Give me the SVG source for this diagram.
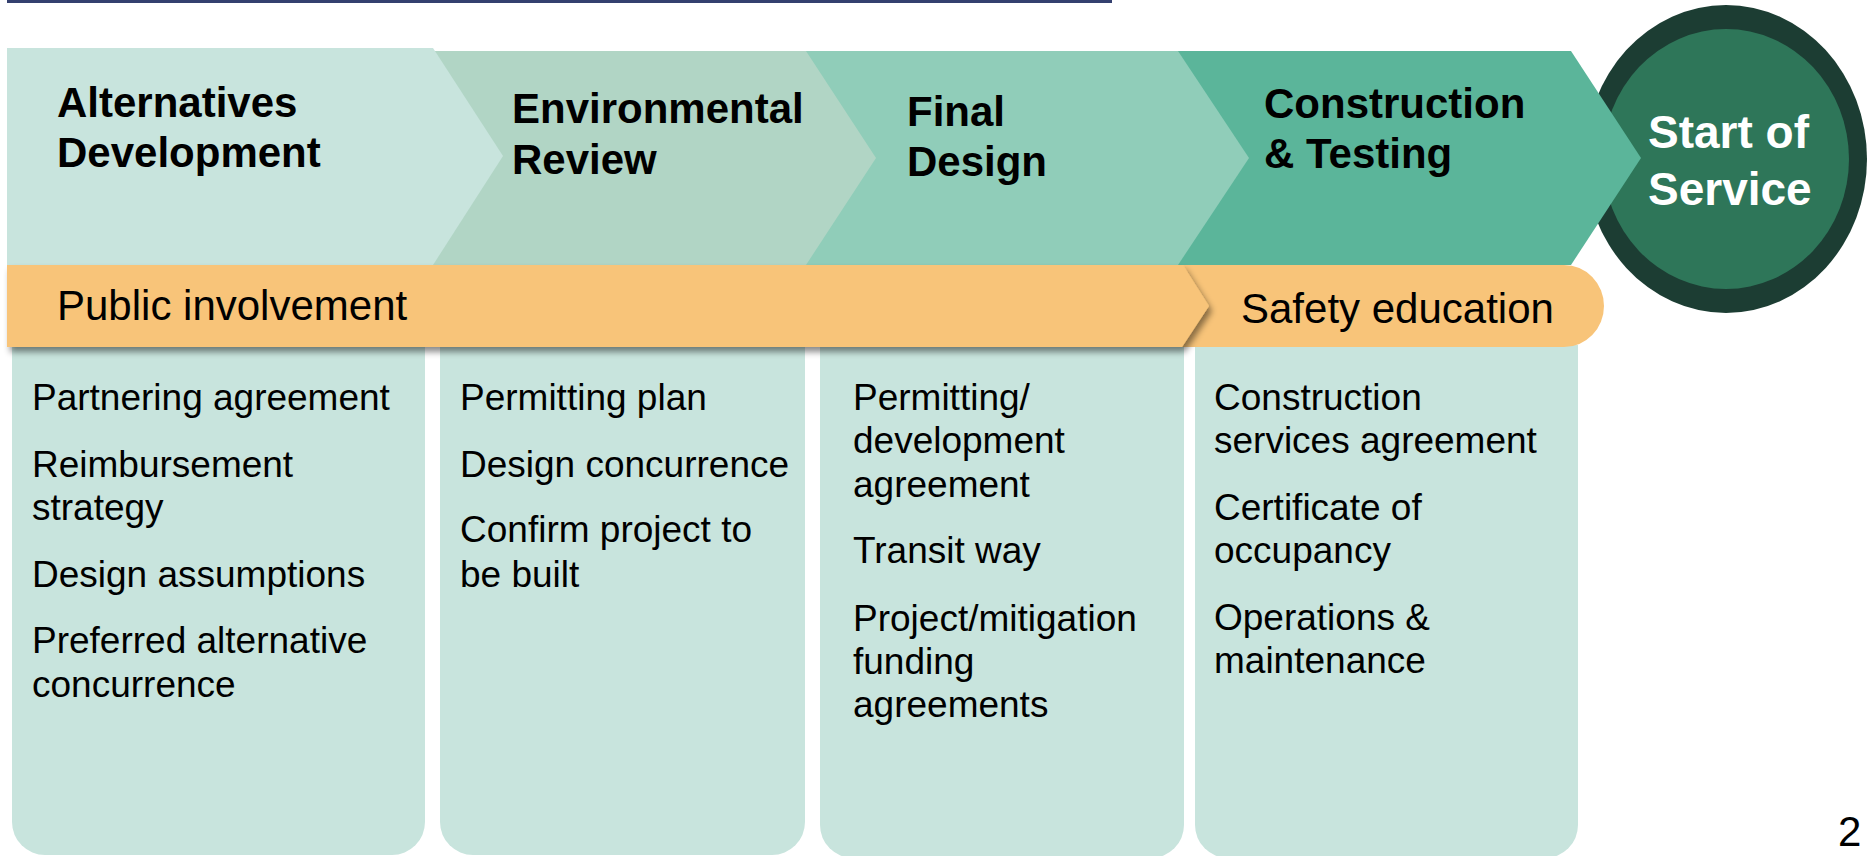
<svg xmlns="http://www.w3.org/2000/svg" width="1868" height="856" viewBox="0 0 1868 856">
  <style>
    .hdr { font-family: "Liberation Sans", Arial, sans-serif; font-weight: bold; font-size: 42px; fill: #000; }
    .sos { font-family: "Liberation Sans", Arial, sans-serif; font-weight: bold; font-size: 46px; fill: #fff; }
    .bar { font-family: "Liberation Sans", Arial, sans-serif; font-size: 42px; fill: #000; }
    .body { font-family: "Liberation Sans", Arial, sans-serif; font-size: 37px; fill: #000; }
    .box { fill: #c8e4dd; }
    .orange { fill: #f8c479; }
  </style>
  <defs>
    <filter id="shadow" x="-5%" y="-20%" width="110%" height="160%">
      <feDropShadow dx="3" dy="5" stdDeviation="3" flood-color="#000" flood-opacity="0.45"/>
    </filter>
  </defs>
  <rect width="1868" height="856" fill="#fff"/>
  <rect x="7" y="0" width="1105" height="3" fill="#34406f"/>

  <g id="box-alternatives">
    <path class="box" d="M12,345 H425 V822 A33,33 0 0 1 392,855 H45 A33,33 0 0 1 12,822 Z"/>
    <text class="body" x="32" y="410">Partnering agreement</text>
    <text class="body" x="32" y="477">Reimbursement</text>
    <text class="body" x="32" y="520">strategy</text>
    <text class="body" x="32" y="587">Design assumptions</text>
    <text class="body" x="32" y="653">Preferred alternative</text>
    <text class="body" x="32" y="697">concurrence</text>
  </g>
  <g id="box-environmental">
    <path class="box" d="M440,345 H805 V822 A33,33 0 0 1 772,855 H473 A33,33 0 0 1 440,822 Z"/>
    <text class="body" x="460" y="410">Permitting plan</text>
    <text class="body" x="460" y="477">Design concurrence</text>
    <text class="body" x="460" y="542">Confirm project to</text>
    <text class="body" x="460" y="587">be built</text>
  </g>
  <g id="box-final">
    <path class="box" d="M820,345 H1184 V825 A33,33 0 0 1 1151,858 H853 A33,33 0 0 1 820,825 Z"/>
    <text class="body" x="853" y="410">Permitting/</text>
    <text class="body" x="853" y="453">development</text>
    <text class="body" x="853" y="497">agreement</text>
    <text class="body" x="853" y="563">Transit way</text>
    <text class="body" x="853" y="631">Project/mitigation</text>
    <text class="body" x="853" y="674">funding</text>
    <text class="body" x="853" y="717">agreements</text>
  </g>
  <g id="box-construction">
    <path class="box" d="M1195,345 H1578 V825 A33,33 0 0 1 1545,858 H1228 A33,33 0 0 1 1195,825 Z"/>
    <text class="body" x="1214" y="410">Construction</text>
    <text class="body" x="1214" y="453">services agreement</text>
    <text class="body" x="1214" y="520">Certificate of</text>
    <text class="body" x="1214" y="563">occupancy</text>
    <text class="body" x="1214" y="630">Operations &amp;</text>
    <text class="body" x="1214" y="673">maintenance</text>
  </g>

  <g id="start-of-service">
    <ellipse cx="1726" cy="159" rx="141" ry="154" fill="#1c3d33"/>
    <ellipse cx="1726" cy="159" rx="123" ry="130" fill="#2e7659"/>
    <text class="sos" x="1648" y="148">Start of</text>
    <text class="sos" x="1648" y="205">Service</text>
  </g>

  <g id="stage-construction">
    <polygon points="1160,51 1571,51 1641,158 1571,265 1160,265" fill="#5bb59a"/>
    <text class="hdr" x="1264" y="118">Construction</text>
    <text class="hdr" x="1264" y="168">&amp; Testing</text>
  </g>
  <g id="stage-final">
    <polygon points="790,51 1178,51 1249,158 1178,265 790,265" fill="#90cdb9"/>
    <text class="hdr" x="907" y="126">Final</text>
    <text class="hdr" x="907" y="176">Design</text>
  </g>
  <g id="stage-environmental">
    <polygon points="420,51 806,51 876,158 806,265 420,265" fill="#b1d5c5"/>
    <text class="hdr" x="512" y="123">Environmental</text>
    <text class="hdr" x="512" y="174">Review</text>
  </g>
  <g id="stage-alternatives">
    <polygon points="7,48 433,48 503,156 433,265 7,265" fill="#c8e4dd"/>
    <text class="hdr" x="57" y="117">Alternatives</text>
    <text class="hdr" x="57" y="167">Development</text>
  </g>

  <g id="bar-safety">
    <path class="orange" d="M1170,265 H1564 A40,41 0 0 1 1564,347 H1170 Z"/>
    <text class="bar" x="1241" y="323">Safety education</text>
  </g>
  <g id="bar-public">
    <polygon class="orange" points="7,265 1183,265 1209,306 1182,347 7,347" filter="url(#shadow)"/>
    <text class="bar" x="57" y="320">Public involvement</text>
  </g>

  <g id="connectors"></g>

  <text class="bar" x="1838" y="846" font-size="32">2</text>
</svg>
